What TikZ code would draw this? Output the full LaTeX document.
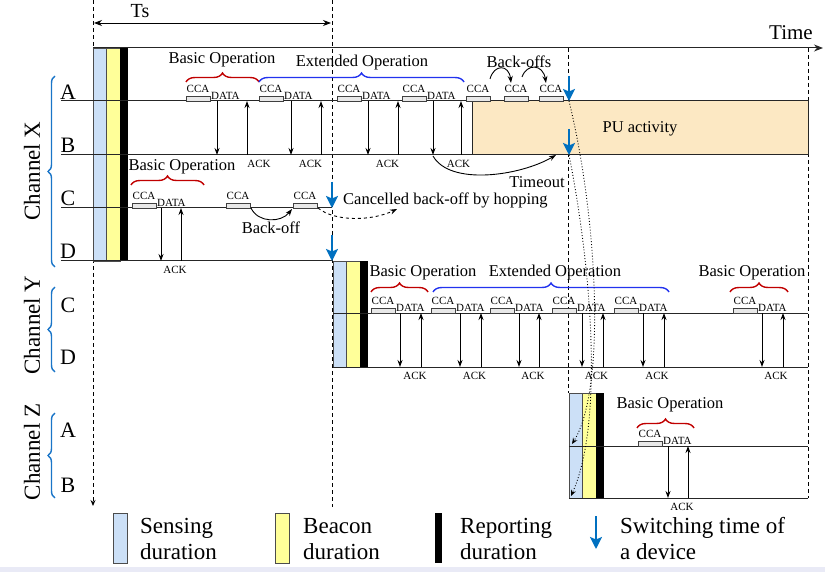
\documentclass[tikz,border=0pt]{standalone}
\usepackage{fontspec}
\setmainfont{Liberation Serif}
\usetikzlibrary{arrows.meta,decorations.pathreplacing}
\definecolor{senseblue}{HTML}{CCE0F7}
\definecolor{beaconyellow}{HTML}{FFFF99}
\definecolor{pufill}{HTML}{FCE8C3}
\definecolor{switchblue}{HTML}{0070C0}
\definecolor{extblue}{HTML}{2233EE}
\definecolor{basicred}{HTML}{C00000}
\definecolor{chanblue}{HTML}{1A75C8}
\definecolor{ccafill}{HTML}{E8E8E8}
\definecolor{stripfill}{HTML}{E9EAF6}

\newcommand\mkcca[2]{%
  \draw[ccabox] (#1,#2) rectangle ++(24,-5);
  \node[smalltxt] at (#1+12,#2-12) {CCA};}
\newcommand\devop[6]{%
  \mkcca{#1}{#5}
  \node[smalltxt,anchor=west,inner sep=0pt] at (#1+25,#5-5) {DATA};
  \draw[msg] (#2,#5) -- (#2,#6);
  \draw[msg] (#3,#6) -- (#3,#5);
  \node[smalltxt] at (#4,#6+8.5) {ACK};}
\newcommand\mkblock[3]{%
  \draw[colframe,fill=senseblue] (#1,#2) rectangle (#1+13.5,#3);
  \draw[colframe,fill=beaconyellow] (#1+13.5,#2) rectangle (#1+27,#3);
  \fill[black] (#1+27,#2) rectangle (#1+35,#3);}

\begin{document}
\begin{tikzpicture}[x=1pt,y=-1pt,
  bigtxt/.style={font=\fontsize{22}{26}\selectfont, inner sep=1pt},
  midtxt/.style={font=\fontsize{16.5}{19}\selectfont, inner sep=1pt},
  smalltxt/.style={font=\fontsize{11}{13}\selectfont, inner sep=1pt},
  legtxt/.style={font=\fontsize{23}{26}\selectfont, align=left, anchor=west, inner sep=0pt},
  tline/.style={line width=1pt, black!85},
  colframe/.style={draw=black!70, line width=0.6pt},
  ccabox/.style={draw=black!75, fill=ccafill, line width=0.7pt},
  msg/.style={line width=0.9pt, -{Stealth[length=7pt,width=5pt]}},
  vdash/.style={line width=0.9pt, dash pattern=on 4pt off 3pt},
  switch/.style={switchblue, line width=2.2pt, -{Stealth[length=12pt,width=12pt,inset=2.5pt]}},
  redbrace/.style={basicred, line width=1.4pt, decorate, decoration={brace,amplitude=9pt}},
  bluebrace/.style={extblue, line width=1.4pt, decorate, decoration={brace,amplitude=9pt}},
  chanbrace/.style={chanblue, line width=1.4pt, decorate, decoration={brace,amplitude=7pt}},
  hopcurve/.style={line width=0.9pt, dotted, -{Stealth[length=6pt,width=5pt]}},
  curvearrow/.style={line width=0.9pt, -{Stealth[length=7pt,width=5pt]}}
]
\useasboundingbox (0,0) rectangle (825,572);
\fill[stripfill] (0,567) rectangle (825,572);

% vertical dashed guides
\draw[vdash,-{Stealth[length=6pt,width=5pt]}] (93,0) -- (93,506);
\draw[vdash] (332,0) -- (332,507);
\draw[vdash] (568,48) -- (568,393);
\draw[vdash] (808,48) -- (808,498);

% Ts and time axis
\draw[line width=0.9pt,{Stealth[length=8pt,width=6pt]}-{Stealth[length=8pt,width=6pt]}] (94,23) -- (331,23);
\node[bigtxt,font=\fontsize{20}{24}\selectfont] (ts) at (140,11) {Ts};
\draw[tline,-{Stealth[length=9pt,width=7pt]}] (93,48) -- (823,48);
\node[bigtxt,font=\fontsize{21}{24}\selectfont] (time) at (791,33) {Time};

% blocks
\mkblock{93}{48}{261}
\mkblock{333}{261}{367}
\mkblock{569}{393}{498}

% PU activity
\draw[tline,fill=pufill] (472,101) rectangle (808,155);
\node[midtxt] (pu) at (640,129) {PU activity};

% channel lines
\draw[tline] (61,101) -- (808,101);
\draw[tline] (61,155) -- (808,155);
\draw[tline] (61,208) -- (332,208);
\draw[tline] (61,261) -- (333,261);
\draw[tline] (333,313) -- (808,313);
\draw[tline] (333,367) -- (808,367);
\draw[tline] (569,446) -- (808,446);
\draw[tline] (569,498) -- (808,498);

% device letters
\node[bigtxt] (xa) at (68,92) {A};
\node[bigtxt] (xb) at (68,145) {B};
\node[bigtxt] (xc) at (68,198) {C};
\node[bigtxt] (xd) at (68,251) {D};
\node[bigtxt] (yc) at (68,305) {C};
\node[bigtxt] (yd) at (68,357) {D};
\node[bigtxt] (za) at (68,430) {A};
\node[bigtxt] (zb) at (68,485) {B};

% channel labels and braces
\node[bigtxt,font=\fontsize{23}{26}\selectfont,rotate=90] (chx) at (32,171) {Channel X};
\node[bigtxt,font=\fontsize{23}{26}\selectfont,rotate=90] (chy) at (32,325) {Channel Y};
\node[bigtxt,font=\fontsize{23}{26}\selectfont,rotate=90] (chz) at (32,452) {Channel Z};
\draw[chanbrace] (55,267) -- (55,76);
\draw[chanbrace] (55,372) -- (55,287);
\draw[chanbrace] (55,498) -- (55,413);

% Channel X, devices A -> B
\devop{186}{217}{247}{259}{101}{155}
\devop{259}{291}{321}{310.5}{101}{155}
\devop{337}{368}{398}{387.5}{101}{155}
\devop{402}{433}{461}{458.5}{101}{155}
\mkcca{466}{101}
\mkcca{504}{101}
\mkcca{539}{101}
\draw[redbrace] (186,82) -- (259,82);
\draw[bluebrace] (259,82) -- (464,82);
\node[midtxt] (bo1) at (222,60) {Basic Operation};
\node[midtxt] (eo1) at (362,63) {Extended Operation};
\node[midtxt] (bos) at (519,62) {Back-offs};
\draw[curvearrow] (490,79) .. controls (494,64) and (509,64) .. (511,83);
\draw[curvearrow] (522,77) .. controls (527,63) and (543,64) .. (546,83);
\draw[curvearrow] (433,156) .. controls (450,186) and (520,176) .. (556,155);
\node[midtxt] (tout) at (537,182) {Timeout};

% Channel X, devices C -> D
\devop{132}{161}{181}{175}{208}{261}
\mkcca{226}{208}
\mkcca{293}{208}
\draw[redbrace] (131,185) -- (204,185);
\node[midtxt] (bo2) at (182,167) {Basic Operation};
\draw[curvearrow] (251,208) .. controls (258,223) and (281,223) .. (292,209);
\node[midtxt] (bkoff) at (271,228) {Back-off};
\draw[line width=0.9pt, dashed, -{Stealth[length=7pt,width=5pt]}] (318,208) .. controls (335,222) and (372,221) .. (397,209);
\node[midtxt,anchor=west] (canc) at (342,200) {Cancelled back-off by hopping};

% Channel Y, devices C -> D
\devop{371}{400}{421}{415}{313}{367}
\devop{431}{460}{481}{474.5}{313}{367}
\devop{490}{519}{539}{533}{313}{367}
\devop{552}{582}{603}{596.5}{313}{367}
\devop{614}{643}{664}{657}{313}{367}
\devop{733}{762}{783}{776}{313}{367}
\draw[redbrace] (371,292) -- (428,292);
\draw[bluebrace] (433,292) -- (669,292);
\draw[redbrace] (730,292) -- (788,292);
\node[midtxt] (bo3) at (423,273) {Basic Operation};
\node[midtxt] (eo2) at (555,273) {Extended Operation};
\node[midtxt] (bo4) at (752,273) {Basic Operation};

% Channel Z, devices A -> B
\devop{638}{668}{688}{682}{446}{498}
\draw[redbrace] (637,428) -- (694,428);
\node[midtxt] (bo5) at (670,405) {Basic Operation};

% switching arrows
\draw[switch] (569,76) -- (569,101);
\draw[switch] (569,129) -- (569,155);
\draw[switch] (332,182) -- (332,208);
\draw[switch] (332,235) -- (332,261);

% hopping curves to channel Z
\draw[hopcurve] (569,101) .. controls (598,220) and (606,390) .. (572,444);
\draw[hopcurve] (569,155) .. controls (590,260) and (605,420) .. (571,496);

% legend
\draw[colframe,fill=senseblue] (113,513) rectangle (127,563);
\node[legtxt] (lsense) at (140,539) {Sensing\\duration};
\draw[colframe,fill=beaconyellow] (275,513) rectangle (289,563);
\node[legtxt] (lbeacon) at (303,539) {Beacon\\duration};
\fill[black] (435,513) rectangle (442,563);
\node[legtxt] (lreport) at (460,539) {Reporting\\duration};
\draw[switch] (596,516) -- (596,549);
\node[legtxt] (lswitch) at (620,539) {Switching time of\\a device};
\end{tikzpicture}
\end{document}
